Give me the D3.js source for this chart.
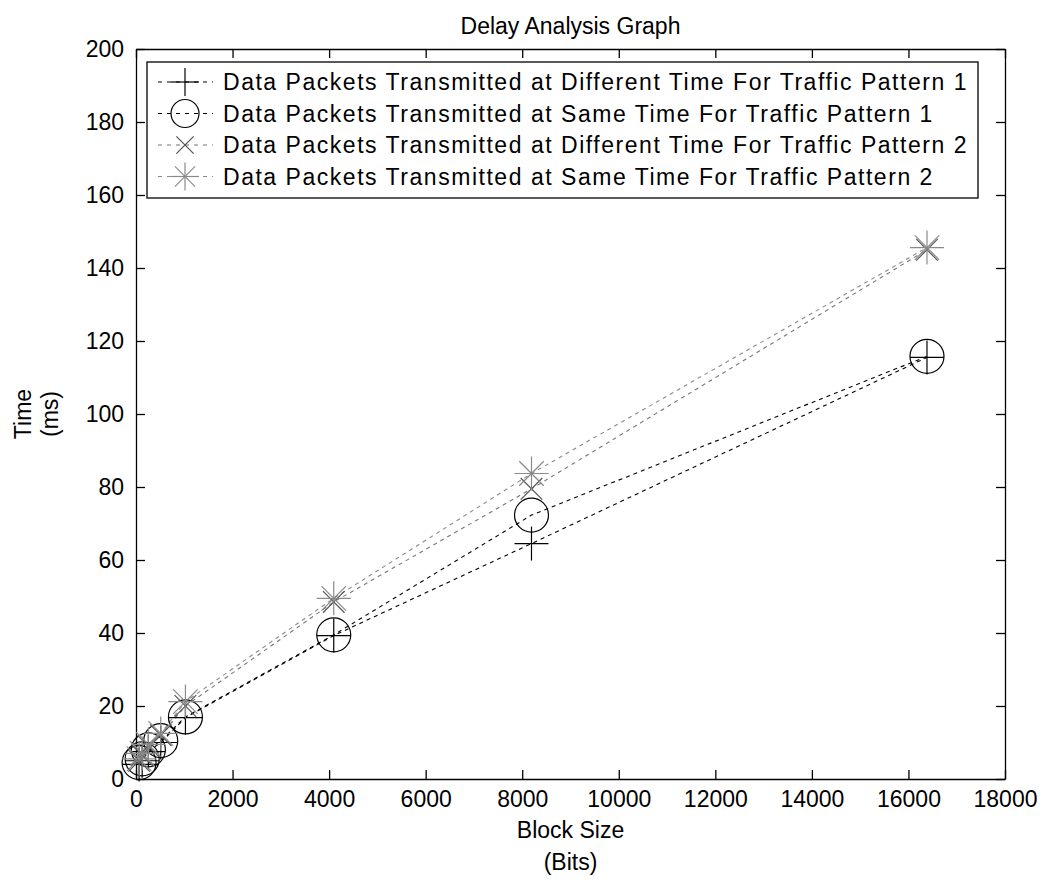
<!DOCTYPE html>
<html><head><meta charset="utf-8">
<script src="https://cdn.jsdelivr.net/npm/d3@7"></script>
<style>body{margin:0;background:#fff}svg{display:block}text{font-family:"Liberation Sans",Arial,sans-serif}</style>
</head><body>
<svg id="c" width="1044" height="883"></svg>
<script>
const blockSizes = [64, 128, 256, 512, 1024, 4096, 8192, 16384];
const diffTimeTP1 = [4, 5, 7.5, 10, 16.8, 39.3, 64.5, 115.5];
const sameTimeTP1 = [4.5, 5.5, 8, 10.5, 17, 39.5, 72.3, 115.8];
const diffTimeTP2 = [5, 6.5, 9, 12, 20, 48.5, 79.5, 145];
const sameTimeTP2 = [5.5, 7, 9.5, 12.5, 21.2, 49.5, 83.7, 145.6];
const seriesNames = [
  "Data Packets Transmitted at Different Time For Traffic Pattern 1",
  "Data Packets Transmitted at Same Time For Traffic Pattern 1",
  "Data Packets Transmitted at Different Time For Traffic Pattern 2",
  "Data Packets Transmitted at Same Time For Traffic Pattern 2"
];
const xTicks = [0, 2000, 4000, 6000, 8000, 10000, 12000, 14000, 16000, 18000];
const yTicks = [0, 20, 40, 60, 80, 100, 120, 140, 160, 180, 200];

const seriesValues = [diffTimeTP1, sameTimeTP1, diffTimeTP2, sameTimeTP2];
const markers = ["plus", "circle", "cross", "star"];
const lineColors = ["#000", "#000", "#777", "#8a8a8a"];
const markerColors = ["#000", "#000", "#555", "#8a8a8a"];

const svg = d3.select("#c");
const L = 136, R = 1005, T = 49, B = 779;
const x = d3.scaleLinear().domain([0, 18000]).range([L, R]);
const y = d3.scaleLinear().domain([0, 200]).range([B, T]);
const FONT = 23;

function drawMarker(g, type, cx, cy, color, s) {
  const st = {stroke: color, "stroke-width": 1.2, fill: "none"};
  const line = (x1, y1, x2, y2) => { const l = g.append("line").attr("x1", cx + x1).attr("y1", cy + y1).attr("x2", cx + x2).attr("y2", cy + y2); for (const k in st) l.attr(k, st[k]); };
  if (type === "plus") { line(-s, 0, s, 0); line(0, -s, 0, s); }
  else if (type === "circle") { g.append("circle").attr("cx", cx).attr("cy", cy).attr("r", s).attr("stroke", color).attr("stroke-width", 1.2).attr("fill", "none"); }
  else if (type === "cross") { const d = s * 0.72; line(-d, -d, d, d); line(-d, d, d, -d); }
  else if (type === "star") { line(-s, 0, s, 0); line(0, -s, 0, s); const d = s * 0.72; line(-d, -d, d, d); line(-d, d, d, -d); }
}

// axes
const gx = svg.append("g").attr("transform", `translate(0,${B})`)
  .call(d3.axisBottom(x).tickValues(xTicks).tickFormat(d3.format("d")).tickSizeInner(-9).tickSizeOuter(0).tickPadding(12));
const gxt = svg.append("g").attr("transform", `translate(0,${T})`)
  .call(d3.axisTop(x).tickValues(xTicks).tickFormat("").tickSizeInner(-9).tickSizeOuter(0));
const gy = svg.append("g").attr("transform", `translate(${L},0)`)
  .call(d3.axisLeft(y).tickValues(yTicks).tickFormat(d3.format("d")).tickSizeInner(-9).tickSizeOuter(0).tickPadding(12));
const gyr = svg.append("g").attr("transform", `translate(${R},0)`)
  .call(d3.axisRight(y).tickValues(yTicks).tickFormat("").tickSizeInner(-9).tickSizeOuter(0));
[gx, gxt, gy, gyr].forEach(g => {
  g.selectAll("path,line").attr("stroke", "#000").attr("stroke-width", 1.3);
  g.selectAll("text").attr("font-size", FONT).attr("fill", "#000").style("font-family", '"Liberation Sans",Arial,sans-serif');
});

// lines and markers
seriesValues.forEach((vals, i) => {
  const pts = blockSizes.map((b, j) => [b, vals[j]]);
  svg.append("path").datum(pts)
    .attr("d", d3.line().x(d => x(d[0])).y(d => y(d[1])))
    .attr("fill", "none").attr("stroke", lineColors[i]).attr("stroke-width", 1.1)
    .attr("stroke-dasharray", "4,4");
});
seriesValues.forEach((vals, i) => {
  const g = svg.append("g");
  blockSizes.forEach((b, j) => drawMarker(g, markers[i], x(b), y(vals[j]), markerColors[i], markers[i] === "cross" ? 15 : 17));
});

// title and labels
svg.append("text").attr("x", (L + R) / 2).attr("y", 34).attr("text-anchor", "middle").attr("font-size", FONT).text("Delay Analysis Graph");
svg.append("text").attr("x", (L + R) / 2).attr("y", 838).attr("text-anchor", "middle").attr("font-size", FONT).text("Block Size");
svg.append("text").attr("x", (L + R) / 2).attr("y", 870).attr("text-anchor", "middle").attr("font-size", FONT).text("(Bits)");
svg.append("text").attr("transform", `translate(31,${(T + B) / 2}) rotate(-90)`).attr("text-anchor", "middle").attr("font-size", FONT).text("Time");
svg.append("text").attr("transform", `translate(58,${(T + B) / 2}) rotate(-90)`).attr("text-anchor", "middle").attr("font-size", FONT).text("(ms)");

// legend
const lg = svg.append("g");
const rowY = [82, 113.5, 145, 176.5];
const texts = seriesNames.map((n, i) => lg.append("text").attr("x", 223).attr("y", rowY[i] + 8).attr("font-size", FONT).text(n));
const probe = lg.append("text").attr("font-size", FONT).text("Data Packets Transmitted");
const spacing = (300 - probe.node().getComputedTextLength()) / 24;
probe.remove();
texts.forEach(t => t.style("letter-spacing", spacing + "px"));
const maxW = d3.max(texts, t => t.node().getBBox().width);
lg.insert("rect", ":first-child").attr("x", 147).attr("y", 62).attr("width", 223 + maxW + 10 - 147).attr("height", 136)
  .attr("fill", "#fff").attr("stroke", "#000").attr("stroke-width", 1.3);
markers.forEach((m, i) => {
  lg.append("line").attr("x1", 158).attr("x2", 213).attr("y1", rowY[i]).attr("y2", rowY[i])
    .attr("stroke", lineColors[i]).attr("stroke-width", 1.1).attr("stroke-dasharray", "4,5");
  drawMarker(lg, m, 185, rowY[i], markerColors[i], m === "cross" ? 12 : 14);
});
</script>
</body></html>
